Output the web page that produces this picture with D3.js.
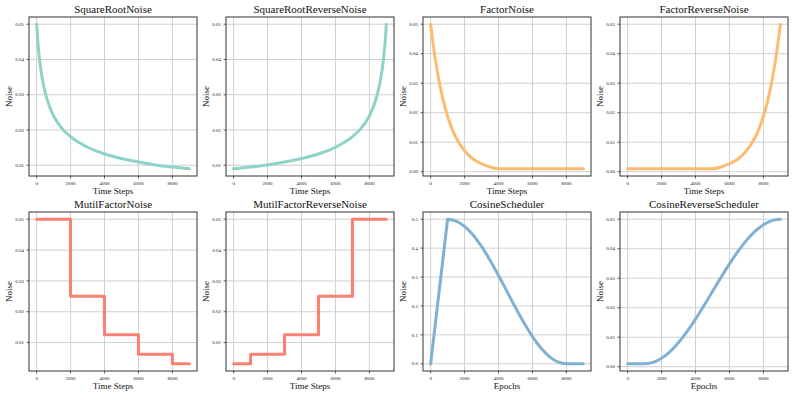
<!DOCTYPE html>
<html>
<head>
<meta charset="utf-8">
<script src="https://cdn.jsdelivr.net/npm/d3@7"></script>
<style>
  body { margin: 0; background: #fff; }
  svg { display: block; font-family: "Liberation Serif", "DejaVu Serif", serif; }
  .grid line { stroke: #cfcfcf; stroke-width: 1; }
  .frame { fill: none; stroke: #333; stroke-width: 1; }
  .tick-mark { stroke: #333; stroke-width: 0.8; }
  .tick-label { font-size: 5px; fill: #222; }
  .title { font-size: 11px; fill: #111; }
  .axis-label { font-size: 9px; fill: #111; }
</style>
</head>
<body>
<svg id="chart" width="793" height="397"></svg>
<script>
// ---- data ----
const xTicks = [0, 2000, 4000, 6000, 8000];

const sqrtT = [0, 100, 250, 500, 750, 1000, 1500, 2000, 3000, 4000, 5000, 6000, 7000, 8000, 9000];
const sqrtNoise = [0.050, 0.0434, 0.0370, 0.0307, 0.0268, 0.0240, 0.0204, 0.0181, 0.0151, 0.0132, 0.0119, 0.0109, 0.0101, 0.0095, 0.0090];

const sqrtRevT = [0, 1000, 2000, 3000, 4000, 5000, 6000, 7000, 7500, 8000, 8250, 8500, 8750, 8900, 9000];
const sqrtRevNoise = [0.0090, 0.0095, 0.0101, 0.0109, 0.0119, 0.0132, 0.0151, 0.0181, 0.0204, 0.0240, 0.0268, 0.0307, 0.0370, 0.0434, 0.050];

const factorT = [0, 250, 500, 750, 1000, 1250, 1500, 2000, 2500, 3000, 3500, 4000, 5000, 6000, 7000, 8000, 9000];
const factorNoise = [0.050, 0.0391, 0.0307, 0.0240, 0.0188, 0.0147, 0.0115, 0.0071, 0.0043, 0.0027, 0.0016, 0.001, 0.001, 0.001, 0.001, 0.001, 0.001];

const factorRevT = [0, 1000, 2000, 3000, 4000, 5000, 5500, 6000, 6500, 7000, 7500, 7750, 8000, 8250, 8500, 8750, 9000];
const factorRevNoise = [0.001, 0.001, 0.001, 0.001, 0.001, 0.001, 0.0016, 0.0027, 0.0043, 0.0071, 0.0115, 0.0147, 0.0188, 0.0240, 0.0307, 0.0391, 0.050];

const multiT = [0, 2000, 4000, 6000, 8000, 9000];
const multiNoise = [0.05, 0.025, 0.0125, 0.00625, 0.003125, 0.003125];

const multiRevT = [0, 1000, 3000, 5000, 7000, 9000];
const multiRevNoise = [0.003125, 0.00625, 0.0125, 0.025, 0.05, 0.05];

const cosWarmT = [0, 1000];
const cosWarm = [0, 0.5];
const cosDecayT = [1000, 1500, 2000, 2500, 3000, 3500, 4000, 4500, 5000, 5500, 6000, 6500, 7000, 7500, 8000, 8500, 9000];
const cosDecay = [0.5, 0.4937, 0.475, 0.4455, 0.4059, 0.3585, 0.3056, 0.25, 0.1944, 0.1415, 0.0941, 0.0545, 0.0248, 0.0063, 0, 0, 0];

const cosRevT = [0, 500, 1000, 1500, 2000, 2500, 3000, 3500, 4000, 4500, 5000, 5500, 6000, 6500, 7000, 7500, 8000, 8500, 9000];
const cosRevNoise = [0.001, 0.001, 0.001, 0.00147, 0.00286, 0.00513, 0.00818, 0.01189, 0.01612, 0.02072, 0.0255, 0.03028, 0.03488, 0.03911, 0.04283, 0.04587, 0.04813, 0.04953, 0.05];

const titles = ['SquareRootNoise', 'SquareRootReverseNoise', 'FactorNoise', 'FactorReverseNoise',
                'MutilFactorNoise', 'MutilFactorReverseNoise', 'CosineScheduler', 'CosineReverseScheduler'];
const xLabels = ['Time Steps', 'Time Steps', 'Time Steps', 'Time Steps', 'Time Steps', 'Time Steps', 'Epochs', 'Epochs'];

// ---- layout ----
const colX = [29, 226, 423, 620];
const rowY = [17, 212];
const plotW = 168, plotH = 159;

const TEAL = '#8dd3c7', ORANGE = '#fdbb70', SALMON = '#fb8072', BLUE = '#80b1d3';

const zip = (xs, ys) => xs.map((x, i) => [x, ys[i]]);

const panels = [
  { segs: [{ pts: zip(sqrtT, sqrtNoise), curve: d3.curveMonotoneX }], color: TEAL, fmt: '.2f' },
  { segs: [{ pts: zip(sqrtRevT, sqrtRevNoise), curve: d3.curveMonotoneX }], color: TEAL, fmt: '.2f' },
  { segs: [{ pts: zip(factorT, factorNoise), curve: d3.curveMonotoneX }], color: ORANGE, fmt: '.2f' },
  { segs: [{ pts: zip(factorRevT, factorRevNoise), curve: d3.curveMonotoneX }], color: ORANGE, fmt: '.2f' },
  { segs: [{ pts: zip(multiT, multiNoise), curve: d3.curveStepAfter }], color: SALMON, fmt: '.2f' },
  { segs: [{ pts: zip(multiRevT, multiRevNoise), curve: d3.curveStepAfter }], color: SALMON, fmt: '.2f' },
  { segs: [{ pts: zip(cosWarmT, cosWarm), curve: d3.curveLinear },
           { pts: zip(cosDecayT, cosDecay), curve: d3.curveMonotoneX }], color: BLUE, fmt: '.1f' },
  { segs: [{ pts: zip(cosRevT, cosRevNoise), curve: d3.curveMonotoneX }], color: BLUE, fmt: '.2f' }
];

const svg = d3.select('#chart');

panels.forEach((p, i) => {
  const left = colX[i % 4], top = rowY[Math.floor(i / 4)];
  const g = svg.append('g').attr('transform', `translate(${left},${top})`);

  // matplotlib style 5% margins
  const all = p.segs.flatMap(s => s.pts);
  const xe = d3.extent(all, d => d[0]), ye = d3.extent(all, d => d[1]);
  const xm = (xe[1] - xe[0]) * 0.05, ym = (ye[1] - ye[0]) * 0.05;
  const x = d3.scaleLinear().domain([xe[0] - xm, xe[1] + xm]).range([0, plotW]);
  const y = d3.scaleLinear().domain([ye[0] - ym, ye[1] + ym]).range([plotH, 0]);
  const yTicks = y.ticks(6).filter(t => t >= y.domain()[0] && t <= y.domain()[1]);

  // grid
  const grid = g.append('g').attr('class', 'grid');
  grid.selectAll('line.gx').data(xTicks).join('line')
    .attr('x1', d => x(d)).attr('x2', d => x(d)).attr('y1', 0).attr('y2', plotH);
  grid.selectAll('line.gy').data(yTicks).join('line').attr('class', 'gy')
    .attr('x1', 0).attr('x2', plotW).attr('y1', d => y(d)).attr('y2', d => y(d));

  // lines
  p.segs.forEach(s => {
    g.append('path')
      .attr('d', d3.line().x(d => x(d[0])).y(d => y(d[1])).curve(s.curve)(s.pts))
      .attr('fill', 'none')
      .attr('stroke', p.color)
      .attr('stroke-width', 3)
      .attr('stroke-linejoin', 'round')
      .attr('stroke-linecap', 'round');
  });

  g.append('rect').attr('class', 'frame').attr('width', plotW).attr('height', plotH);

  // x ticks
  const xt = g.append('g');
  xt.selectAll('line').data(xTicks).join('line').attr('class', 'tick-mark')
    .attr('x1', d => x(d)).attr('x2', d => x(d)).attr('y1', plotH).attr('y2', plotH + 2.5);
  xt.selectAll('text').data(xTicks).join('text').attr('class', 'tick-label')
    .attr('x', d => x(d)).attr('y', plotH + 9).attr('text-anchor', 'middle')
    .text(d => d);

  // y ticks
  const yt = g.append('g');
  yt.selectAll('line').data(yTicks).join('line').attr('class', 'tick-mark')
    .attr('x1', -2.5).attr('x2', 0).attr('y1', d => y(d)).attr('y2', d => y(d));
  yt.selectAll('text').data(yTicks).join('text').attr('class', 'tick-label')
    .attr('x', -5).attr('y', d => y(d)).attr('dy', '0.33em').attr('text-anchor', 'end')
    .text(d3.format(p.fmt));

  // labels
  g.append('text').attr('class', 'title').attr('x', plotW / 2).attr('y', -4)
    .attr('text-anchor', 'middle').text(titles[i]);
  g.append('text').attr('class', 'axis-label').attr('x', plotW / 2).attr('y', plotH + 18)
    .attr('text-anchor', 'middle').text(xLabels[i]);
  g.append('text').attr('class', 'axis-label')
    .attr('transform', `translate(-17,${plotH / 2}) rotate(-90)`)
    .attr('text-anchor', 'middle').text('Noise');
});
</script>
</body>
</html>
